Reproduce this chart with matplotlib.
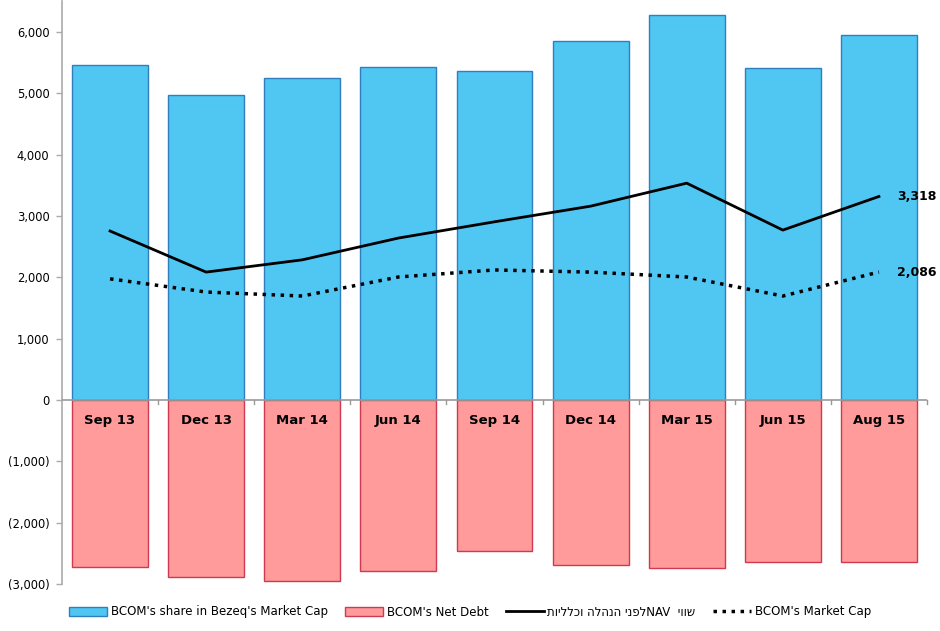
import matplotlib
matplotlib.use("Agg")
import matplotlib.pyplot as plt
from matplotlib.ticker import FuncFormatter, FixedLocator
from matplotlib.patches import Patch
from matplotlib.lines import Line2D
import numpy as np

categories = ["Sep 13", "Dec 13", "Mar 14", "Jun 14", "Sep 14", "Dec 14", "Mar 15", "Jun 15", "Aug 15"]
bezeq_share = [5460, 4975, 5250, 5430, 5365, 5855, 6275, 5415, 5950]
net_debt = [-2725, -2885, -2950, -2790, -2460, -2690, -2740, -2640, -2640]
nav = [2755, 2085, 2285, 2640, 2905, 3160, 3535, 2770, 3318]
market_cap = [1975, 1760, 1695, 2005, 2120, 2085, 2005, 1695, 2086]
yticks = [-3000, -2000, -1000, 0, 1000, 2000, 3000, 4000, 5000, 6000]
legend_labels = ["BCOM's share in Bezeq's Market Cap", "BCOM's Net Debt",
                 "תויללכו הלהנה ינפלNAV  יווש", "BCOM's Market Cap"]

blue = "#50C7F3"
blue_edge = "#2F7FBF"
red = "#FF9B9B"
red_edge = "#D03A50"

plt.rcParams["font.family"] = ["DejaVu Sans"]

fig = plt.figure(figsize=(9.4, 6.31), dpi=100)
ax = fig.add_axes([62/940, 47/631, (927-62)/940, (584-1.3)/631])

x = np.arange(len(categories))
w = 0.79
ax.bar(x, bezeq_share, width=w, color=blue, edgecolor=blue_edge, linewidth=1.0, zorder=2)
ax.bar(x, net_debt, width=w, color=red, edgecolor=red_edge, linewidth=1.0, zorder=2)
ax.plot(x, nav, color="black", linewidth=2.0, zorder=4)
ax.plot(x, market_cap, color="black", linewidth=2.5, linestyle=(0, (1, 1.6)), zorder=4)

ax.axhline(0, color="#999999", linewidth=1.2, zorder=3)

ax.set_xlim(-0.5, len(categories) - 0.5)
ax.set_ylim(-3000, 6500)

for s in ["top", "right", "bottom"]:
    ax.spines[s].set_visible(False)
ax.spines["left"].set_color("#AAAAAA")
ax.spines["left"].set_linewidth(1.2)

ax.yaxis.set_major_locator(FixedLocator(yticks))
def fmt(v, pos):
    v = int(round(v))
    if v < 0:
        return "({:,})".format(-v)
    return "{:,}".format(v)
ax.yaxis.set_major_formatter(FuncFormatter(fmt))
ax.tick_params(axis="y", colors="#AAAAAA", labelcolor="black", labelsize=8.3, length=4, width=1, pad=5)

ax.set_xticks([])
for b in np.arange(-0.5, len(categories), 1.0)[1:]:
    ax.plot([b, b], [-60, 0], color="#999999", linewidth=1, zorder=3, clip_on=False)

for i, c in enumerate(categories):
    ax.text(x[i], -330, c, ha="center", va="center", fontsize=9.5, fontweight="bold", zorder=5)

ax.annotate("{:,}".format(nav[-1]), (x[-1], nav[-1]), xytext=(13, 0), textcoords="offset points",
            ha="left", va="center", fontsize=9, fontweight="bold")
ax.annotate("{:,}".format(market_cap[-1]), (x[-1], market_cap[-1]), xytext=(13, 0), textcoords="offset points",
            ha="left", va="center", fontsize=9, fontweight="bold")

handles = [Patch(facecolor=blue, edgecolor=blue_edge, linewidth=1),
           Patch(facecolor=red, edgecolor=red_edge, linewidth=1),
           Line2D([], [], color="black", linewidth=2),
           Line2D([], [], color="black", linewidth=2.5, linestyle=(0, (1, 1.6)))]
fig.legend(handles, legend_labels, loc="center", bbox_to_anchor=(0.5, 19/631), ncol=4,
           frameon=False, fontsize=8.5, handlelength=3.2, handleheight=0.8, columnspacing=1.5,
           handletextpad=0.3)

fig.savefig("out.png", dpi=100)
